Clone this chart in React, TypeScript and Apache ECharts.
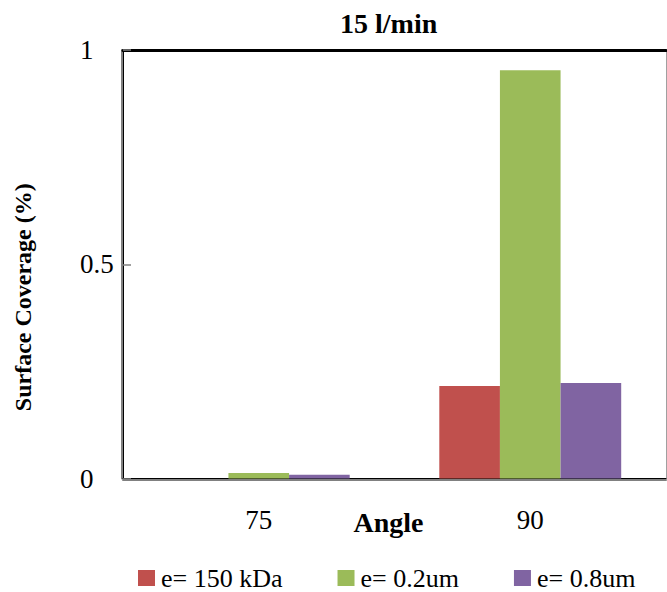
import React, { useEffect, useRef } from "react";
import * as echarts from "echarts";

const categories = ["75", "90"];
const seriesNames = ["e= 150 kDa", "e= 0.2um", "e= 0.8um"];
const values150kDa = [0, 0.216];
const values02um = [0.013, 0.953];
const values08um = [0.009, 0.223];
const colors = ["#C0504D", "#9BBB59", "#8064A2"];

const FONT = "'Liberation Serif', 'Times New Roman', serif";

export default function App() {
  const ref = useRef<HTMLDivElement>(null);
  useEffect(() => {
    if (!ref.current) return;
    const chart = echarts.init(ref.current, undefined, { renderer: "svg" });
    const data = [values150kDa, values02um, values08um];
    chart.setOption({
      animation: false,
      backgroundColor: "#ffffff",
      textStyle: { fontFamily: FONT, color: "#000" },
      title: {
        text: "15 l/min",
        left: 340,
        top: 9,
        padding: 0,
        textStyle: { fontFamily: FONT, fontSize: 28, fontWeight: "bold", color: "#000" },
      },
      legend: {
        left: 138,
        top: 565,
        padding: 0,
        itemWidth: 17,
        itemHeight: 16,
        itemGap: 55,
        icon: "rect",
        data: seriesNames,
        textStyle: { fontFamily: FONT, fontSize: 26, lineHeight: 26, color: "#000", padding: [0, 0, 0, 1] },
      },
      grid: { left: 123, right: 1, top: 50, bottom: 113.5 },
      xAxis: [
        {
          type: "category",
          data: categories,
          position: "bottom",
          axisLine: { show: true, onZero: false, lineStyle: { color: "#000", width: 1 } },
          axisTick: { show: false },
          axisLabel: { fontFamily: FONT, fontSize: 27, color: "#000", margin: 28 },
          name: "Angle",
          nameLocation: "middle",
          nameGap: 30,
          nameMoveOverlap: false,
          nameTextStyle: {
            fontFamily: FONT,
            fontSize: 28,
            fontWeight: "bold",
            color: "#000",
            padding: [0, 12, 0, 0],
          },
        },
        {
          type: "category",
          data: categories,
          position: "bottom",
          offset: 1.5,
          axisLine: { show: true, onZero: false, lineStyle: { color: "#808080", width: 2 } },
          axisTick: { show: false },
          axisLabel: { show: false },
        },
        {
          type: "category",
          data: categories,
          position: "top",
          axisLine: { show: true, onZero: false, lineStyle: { color: "#000", width: 3 } },
          axisTick: { show: false },
          axisLabel: { show: false },
        },
      ],
      yAxis: [
        {
          type: "value",
          min: 0,
          max: 1,
          interval: 0.5,
          position: "left",
          splitLine: { show: false },
          axisLine: { show: true, onZero: false, lineStyle: { color: "#000", width: 1 } },
          axisTick: { show: true, inside: true, length: 8, lineStyle: { color: "#808080", width: 1.5 } },
          axisLabel: { fontFamily: FONT, fontSize: 27, color: "#000", align: "left", margin: 43 },
          name: "Surface Coverage (%)",
          nameLocation: "middle",
          nameGap: 88,
          nameMoveOverlap: false,
          nameTextStyle: {
            fontFamily: FONT,
            fontSize: 24,
            fontWeight: "bold",
            color: "#000",
            padding: [0, 66, 0, 0],
          },
        },
        {
          type: "value",
          min: 0,
          max: 1,
          position: "left",
          offset: 1.5,
          splitLine: { show: false },
          axisLine: { show: true, onZero: false, lineStyle: { color: "#808080", width: 2 } },
          axisTick: { show: false },
          axisLabel: { show: false },
        },
        {
          type: "value",
          min: 0,
          max: 1,
          position: "right",
          splitLine: { show: false },
          axisLine: { show: true, onZero: false, lineStyle: { color: "#a0a0a0", width: 1 } },
          axisTick: { show: false },
          axisLabel: { show: false },
        },
      ],
      series: seriesNames.map((name, i) => ({
        name,
        type: "bar",
        xAxisIndex: 0,
        yAxisIndex: 0,
        data: data[i],
        barGap: "0%",
        barCategoryGap: "33%",
        itemStyle: { color: colors[i] },
      })),
    });
    return () => chart.dispose();
  }, []);
  return <div ref={ref} style={{ width: 667, height: 592, position: "absolute", left: 0, top: 0 }} />;
}
